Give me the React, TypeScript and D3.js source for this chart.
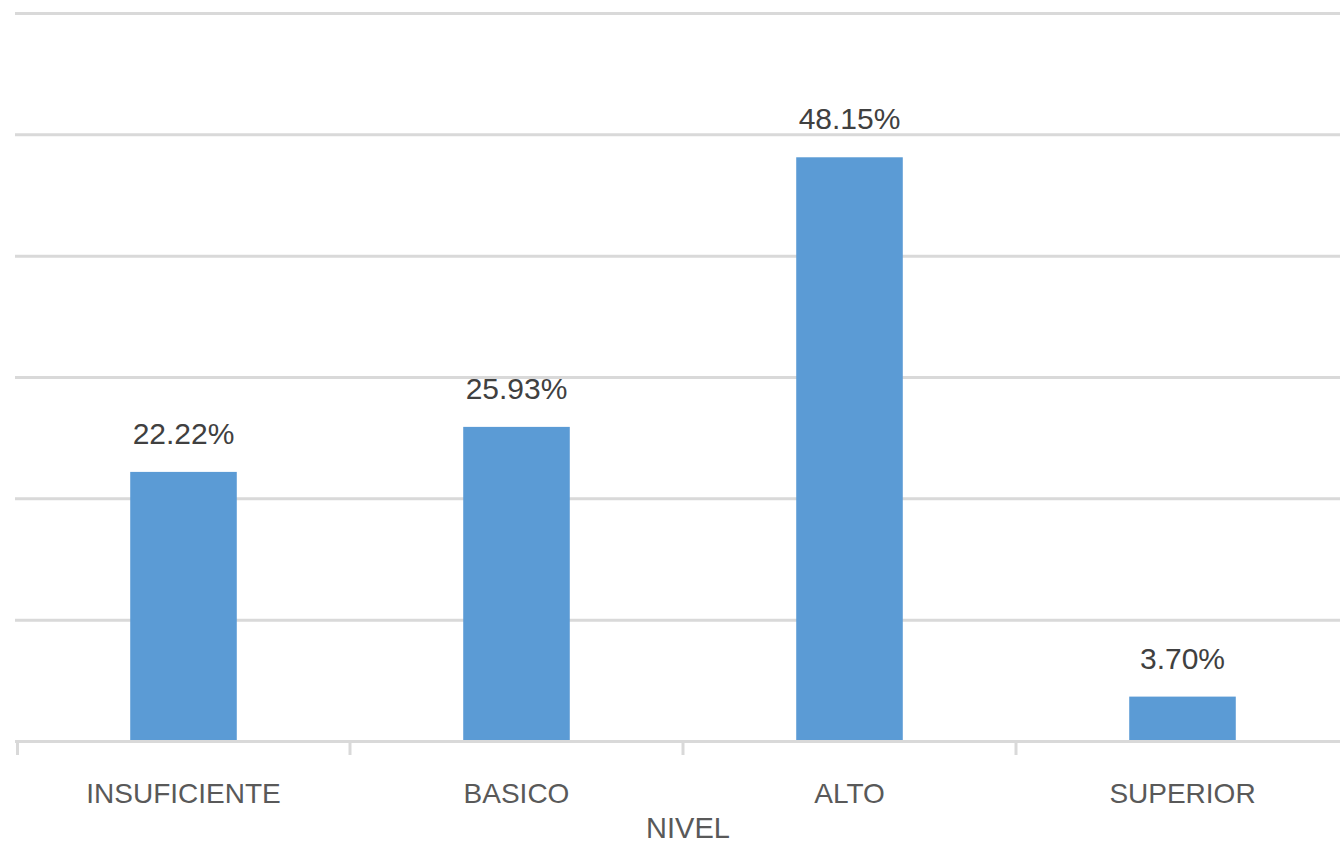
import React from "react";
import * as d3 from "d3";

const categories: string[] = ["INSUFICIENTE", "BASICO", "ALTO", "SUPERIOR"];
const values: number[] = [22.22, 25.93, 48.15, 3.7];
const yTicks: number[] = [0, 10, 20, 30, 40, 50, 60];
const axisTitle = "NIVEL";

const W = 1340;
const H = 846;
const x0 = 17;
const step = 333;
const yBase = 741.5;
const yTop = 13.5;

export default function App() {
  const x = d3
    .scaleBand<string>()
    .domain(categories)
    .range([x0, x0 + step * categories.length])
    .padding(0);
  const y = d3.scaleLinear().domain([0, 60]).range([yBase, yTop]);
  const barW = x.bandwidth() * 0.32;
  const font = "'Liberation Sans', Arial, sans-serif";

  return (
    <svg
      width={W}
      height={H}
      style={{ position: "absolute", left: 0, top: 0, background: "#fff" }}
    >
      {yTicks.map((t) => (
        <line
          key={t}
          x1={15}
          x2={W}
          y1={y(t)}
          y2={y(t)}
          stroke="#d9d9d9"
          strokeWidth={3}
        />
      ))}
      {categories.map((c, i) => (
        <line
          key={"t" + c}
          x1={(x(c) as number) + (i === 0 ? 0.5 : 0)}
          x2={(x(c) as number) + (i === 0 ? 0.5 : 0)}
          y1={yBase}
          y2={755}
          stroke="#d9d9d9"
          strokeWidth={3}
        />
      ))}
      {categories.map((c, i) => {
        const cx = (x(c) as number) + x.bandwidth() / 2;
        return (
          <g key={c}>
            <rect
              x={cx - barW / 2}
              y={y(values[i])}
              width={barW}
              height={yBase - 1.5 - y(values[i])}
              fill="#5b9bd5"
            />
            <text
              x={cx}
              y={y(values[i]) - 28}
              textAnchor="middle"
              fontFamily={font}
              fontSize={30}
              fill="#404040"
            >
              {values[i].toFixed(2) + "%"}
            </text>
            <text
              x={cx}
              y={803}
              textAnchor="middle"
              fontFamily={font}
              fontSize={28}
              fill="#595959"
            >
              {c}
            </text>
          </g>
        );
      })}
      <text
        x={688}
        y={838}
        textAnchor="middle"
        fontFamily={font}
        fontSize={29}
        fill="#595959"
      >
        {axisTitle}
      </text>
    </svg>
  );
}
